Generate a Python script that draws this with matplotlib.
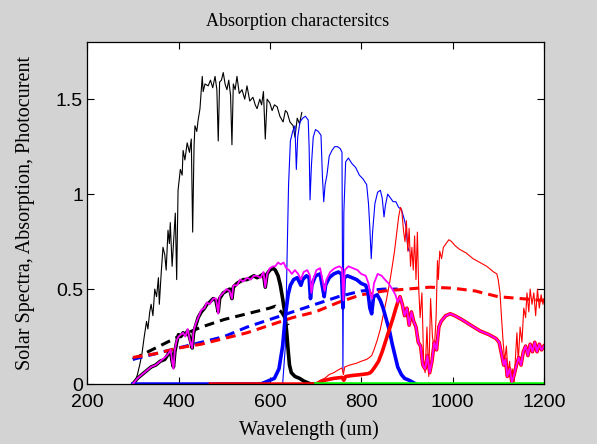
import numpy as np
import matplotlib
matplotlib.use('Agg')
from matplotlib import pyplot as plt

# solar spectrum, short wavelength part (black thin)
sol_blk_x = [300, 305, 310, 315, 320, 325, 330, 333, 337, 340, 344, 348, 352, 356, 358, 362, 366,
             370, 373, 377, 380, 382, 386, 389, 393, 396, 399, 404, 408, 410, 414, 419, 424, 428,
             431, 434, 436, 440, 443, 447, 452, 454, 458, 465, 470, 475, 480, 484, 487, 490, 494,
             498, 502, 506, 510, 514, 517, 520, 524, 528, 533, 539, 545, 550, 556, 563, 568, 572,
             578, 582, 586, 590, 594, 600, 605, 610, 616, 622, 629, 634, 638, 644, 651, 655, 660,
             665, 670]
sol_blk_y = [0.00, 0.01, 0.05, 0.10, 0.16, 0.25, 0.33, 0.29, 0.38, 0.42, 0.36, 0.50, 0.46, 0.56, 0.42,
             0.58, 0.72, 0.68, 0.60, 0.81, 0.74, 0.85, 0.62, 0.74, 0.90, 0.55, 1.02, 1.13, 1.10, 1.23,
             1.18, 1.27, 1.22, 1.29, 0.80, 1.25, 1.36, 1.33, 1.39, 1.45, 1.62, 1.54, 1.58, 1.57, 1.60,
             1.56, 1.62, 1.55, 1.28, 1.59, 1.60, 1.64, 1.58, 1.55, 1.60, 1.52, 1.26, 1.58, 1.55, 1.62,
             1.53, 1.55, 1.50, 1.57, 1.49, 1.51, 1.47, 1.45, 1.50, 1.47, 1.54, 1.29, 1.50, 1.48, 1.44,
             1.47, 1.46, 1.41, 1.38, 1.44, 1.43, 1.38, 1.36, 1.30, 1.40, 1.37, 1.43]

# solar spectrum, middle part (blue thin)
sol_blu_x = [628, 634, 638, 641, 645, 650, 655, 658, 661, 666, 672, 678, 684, 686, 688, 691, 695, 700,
             706, 712, 715, 718, 721, 725, 730, 736, 742, 748, 754, 758, 760, 762, 766, 772, 780, 788,
             796, 804, 812, 816, 819, 822, 825, 830, 836, 842, 846, 850, 853, 858, 864, 870, 876, 882,
             888, 894, 898, 902, 905]
sol_blu_y = [0.00, 0.20, 0.70, 1.05, 1.28, 1.33, 1.36, 1.13, 1.30, 1.38, 1.40, 1.41, 1.39, 1.25, 0.97,
             1.15, 1.30, 1.34, 1.33, 1.31, 1.10, 0.96, 1.05, 1.10, 1.20, 1.23, 1.25, 1.25, 1.24, 1.22,
             0.07, 0.90, 1.17, 1.19, 1.16, 1.14, 1.10, 1.08, 1.05, 0.95, 0.82, 0.66, 0.80, 0.95, 1.01,
             1.02, 0.98, 0.88, 0.94, 1.00, 0.98, 0.96, 0.96, 0.93, 0.92, 0.87, 0.83, 0.72, 0.70]

# solar spectrum, long wavelength part (red thin)
sol_red_x = [700, 710, 720, 730, 740, 750, 758, 761, 764, 775, 790, 800, 812, 818, 823, 828, 835, 842,
             848, 855, 862, 868, 873, 878, 882, 886, 889, 893, 896, 899, 902, 905, 908, 911, 914, 917,
             920, 923, 926, 929, 933, 937, 940, 944, 948, 952, 956, 960, 964, 967, 969, 972, 976, 980,
             986, 992, 998, 1005, 1015, 1030, 1045, 1060, 1075, 1090, 1097, 1100, 1104, 1107, 1110,
             1114, 1118, 1121, 1125, 1128, 1132, 1135, 1138, 1141, 1144, 1148, 1152, 1156, 1160, 1163,
             1167, 1170, 1174, 1178, 1182, 1186, 1190, 1194, 1198, 1200]
sol_red_y = [0.00, 0.02, 0.03, 0.05, 0.06, 0.075, 0.085, 0.05, 0.09, 0.10, 0.11, 0.12, 0.13, 0.14, 0.15,
             0.18, 0.23, 0.29, 0.36, 0.44, 0.53, 0.62, 0.70, 0.80, 0.88, 0.93, 0.91, 0.80, 0.75, 0.86,
             0.70, 0.82, 0.62, 0.72, 0.60, 0.78, 0.55, 0.80, 0.50, 0.35, 0.48, 0.10, 0.06, 0.30, 0.04,
             0.45, 0.25, 0.18, 0.35, 0.65, 0.55, 0.70, 0.66, 0.72, 0.74, 0.76, 0.75, 0.73, 0.71, 0.69,
             0.66, 0.64, 0.62, 0.59, 0.58, 0.55, 0.48, 0.36, 0.25, 0.12, 0.20, 0.06, 0.12, 0.02, 0.08,
             0.01, 0.15, 0.27, 0.12, 0.30, 0.22, 0.40, 0.35, 0.48, 0.38, 0.50, 0.42, 0.48, 0.36, 0.50,
             0.40, 0.47, 0.42, 0.45]

# absorption curves (dashed)
dash_blk_x = [300, 350, 400, 450, 500, 550, 600, 612, 625, 635, 640]
dash_blk_y = [0.13, 0.19, 0.25, 0.30, 0.34, 0.37, 0.40, 0.41, 0.38, 0.34, 0.31]
dash_blu_x = [300, 350, 400, 450, 500, 550, 600, 650, 700, 750, 800, 850, 880]
dash_blu_y = [0.13, 0.16, 0.19, 0.22, 0.25, 0.30, 0.34, 0.38, 0.42, 0.46, 0.49, 0.50, 0.50]
dash_red_x = [300, 350, 400, 450, 500, 550, 600, 650, 700, 750, 800, 850, 900, 950, 1000, 1050,
              1100, 1150, 1200]
dash_red_y = [0.14, 0.16, 0.19, 0.21, 0.24, 0.27, 0.31, 0.35, 0.38, 0.43, 0.47, 0.49, 0.50, 0.51,
              0.505, 0.49, 0.46, 0.45, 0.44]

# photocurrent of the top cell (black thick)
pc_blk_x = [300, 310, 320, 330, 340, 350, 360, 370, 378, 383, 386, 389, 392, 396, 400, 405, 410, 415,
            420, 425, 430, 433, 438, 443, 450, 457, 462, 468, 476, 482, 487, 490, 498, 505, 512, 517,
            520, 528, 535, 542, 550, 558, 565, 572, 580, 586, 590, 594, 600, 607, 612, 618, 623, 628,
            633, 637, 640, 643, 647, 655, 665, 675, 690, 700]
pc_blk_y = [0.00, 0.03, 0.05, 0.07, 0.09, 0.10, 0.12, 0.13, 0.16, 0.17, 0.12, 0.09, 0.17, 0.22, 0.26,
            0.25, 0.27, 0.26, 0.28, 0.24, 0.19, 0.27, 0.31, 0.35, 0.38, 0.40, 0.42, 0.43, 0.45, 0.44,
            0.38, 0.45, 0.48, 0.49, 0.50, 0.45, 0.51, 0.53, 0.54, 0.55, 0.55, 0.56, 0.57, 0.56, 0.57,
            0.58, 0.51, 0.58, 0.60, 0.61, 0.60, 0.57, 0.52, 0.45, 0.37, 0.27, 0.18, 0.10, 0.06, 0.04,
            0.03, 0.015, 0.0, 0.0]

# middle cell (blue thick)
pc_blu_x = [300, 470, 580, 610, 620, 628, 634, 640, 645, 652, 660, 668, 672, 680, 686, 689, 692, 700,
            710, 716, 719, 722, 730, 740, 750, 757, 760, 763, 770, 780, 790, 800, 810, 815, 819, 823,
            827, 835, 842, 848, 855, 862, 868, 874, 880, 888, 895, 905, 920]
pc_blu_y = [0.0, 0.0, 0.0, 0.03, 0.08, 0.20, 0.36, 0.47, 0.52, 0.55, 0.56, 0.52, 0.55, 0.57, 0.56,
            0.45, 0.52, 0.57, 0.58, 0.50, 0.46, 0.52, 0.56, 0.58, 0.59, 0.58, 0.40, 0.56, 0.57, 0.56,
            0.55, 0.53, 0.52, 0.48, 0.40, 0.37, 0.46, 0.47, 0.44, 0.40, 0.34, 0.28, 0.21, 0.15, 0.09,
            0.05, 0.03, 0.02, 0.0]

# bottom cell (red thick)
pc_red_x = [470, 700, 710, 720, 740, 758, 762, 766, 780, 800, 815, 820, 824, 830, 838, 846, 854, 862,
            870, 876, 880, 885, 890, 895, 900, 905, 910, 915, 920, 925, 930, 935, 940, 945, 950, 955,
            960, 965, 970, 975, 985, 995, 1005, 1020, 1040, 1060, 1080, 1095, 1102, 1108, 1112, 1116,
            1120, 1125, 1130, 1135, 1140, 1145, 1150, 1155, 1160, 1165, 1170, 1175, 1180, 1185, 1190,
            1195, 1200]
pc_red_y = [0.0, 0.0, 0.01, 0.02, 0.03, 0.035, 0.02, 0.04, 0.045, 0.05, 0.055, 0.06, 0.07, 0.09, 0.12,
            0.17, 0.23, 0.29, 0.35, 0.40, 0.43, 0.46, 0.42, 0.36, 0.40, 0.31, 0.38, 0.33, 0.30, 0.22,
            0.20, 0.10, 0.08, 0.15, 0.06, 0.12, 0.22, 0.18, 0.30, 0.33, 0.36, 0.37, 0.36, 0.34, 0.31,
            0.28, 0.26, 0.24, 0.22, 0.15, 0.10, 0.13, 0.04, 0.08, 0.01, 0.05, 0.10, 0.14, 0.10, 0.17,
            0.20, 0.15, 0.21, 0.17, 0.22, 0.17, 0.21, 0.18, 0.20]

# total (magenta), short part + middle part, long part follows the red cell
tot_x = [300, 310, 320, 330, 340, 350, 360, 370, 378, 383, 386, 389, 392, 396, 400, 405, 410, 415,
         420, 425, 430, 433, 438, 443, 450, 457, 462, 468, 476, 482, 487, 490, 498, 505, 512, 517,
         520, 528, 535, 542, 550, 558, 565, 572, 580, 586, 590, 594, 600, 607, 612, 618, 624, 630,
         636, 642, 648, 655, 662, 668, 674, 682, 688, 691, 695, 702, 710, 716, 720, 724, 732, 742,
         752, 758, 761, 764, 772, 782, 792, 800, 810, 816, 820, 824, 828, 836, 845, 852, 860, 868,
         875]
tot_y = [0.00, 0.03, 0.05, 0.07, 0.09, 0.10, 0.12, 0.14, 0.16, 0.18, 0.12, 0.08, 0.18, 0.23, 0.25,
         0.26, 0.27, 0.25, 0.29, 0.23, 0.19, 0.28, 0.32, 0.35, 0.39, 0.40, 0.43, 0.42, 0.45, 0.45,
         0.37, 0.46, 0.48, 0.50, 0.49, 0.45, 0.52, 0.52, 0.55, 0.54, 0.56, 0.55, 0.57, 0.57, 0.56,
         0.59, 0.51, 0.58, 0.61, 0.62, 0.62, 0.64, 0.63, 0.64, 0.61, 0.60, 0.58, 0.60, 0.58, 0.55,
         0.59, 0.60, 0.57, 0.48, 0.55, 0.60, 0.61, 0.54, 0.49, 0.55, 0.59, 0.61, 0.62, 0.61, 0.44,
         0.60, 0.62, 0.61, 0.60, 0.58, 0.57, 0.53, 0.47, 0.45, 0.53, 0.58, 0.57, 0.55, 0.53, 0.50,
         0.47]
tot_x = tot_x + pc_red_x[20:]
tot_y = tot_y + pc_red_y[20:]

zero_x = [700, 1200]
zero_y = [0, 0]

fig = plt.figure(figsize=(5.97, 4.44), dpi=100, facecolor='#d3d3d3')
ax = fig.add_axes([0.146, 0.135, 0.765, 0.770])
ax.set_facecolor('white')

ax.plot(sol_blk_x, sol_blk_y, color='black', lw=0.8)
ax.plot(sol_blu_x, sol_blu_y, color='blue', lw=0.8)
ax.plot(sol_red_x, sol_red_y, color='red', lw=0.8)
ax.plot(dash_blk_x, dash_blk_y, color='black', lw=2.2, dashes=(3.2, 2))
ax.plot(dash_blu_x, dash_blu_y, color='blue', lw=2.2, dashes=(3.2, 2))
ax.plot(dash_red_x, dash_red_y, color='red', lw=2.2, dashes=(3.2, 2))
ax.plot(pc_blk_x, pc_blk_y, color='black', lw=2.6)
ax.plot(pc_blu_x, pc_blu_y, color='blue', lw=2.6)
ax.plot(pc_red_x, pc_red_y, color='red', lw=2.6)
ax.plot(zero_x, zero_y, color='#00ff00', lw=2.6)
ax.plot(tot_x, tot_y, color='magenta', lw=1.3)

ax.set_xlim(200, 1200)
ax.set_ylim(0, 1.8)
ax.set_xticks([200, 400, 600, 800, 1000, 1200])
ax.set_yticks([0, 0.5, 1, 1.5])
ax.set_yticklabels(['0', '0.5', '1', '1.5'])
ax.tick_params(direction='in', top=True, right=True, length=5, width=0.8,
               labelsize=14, pad=3)
ax.tick_params(axis='x', pad=7)
for lab in ax.get_xticklabels() + ax.get_yticklabels():
    lab.set_family('Liberation Sans')
for s in ax.spines.values():
    s.set_linewidth(0.9)

ax.set_title('Absorption charactersitcs', family='Liberation Serif', fontsize=13, pad=12, x=0.46)
ax.set_xlabel('Wavelength (um)', family='Liberation Serif', fontsize=14.5, labelpad=7, x=0.485)
ax.set_ylabel('Solar Spectra, Absorption, Photocurent', family='Liberation Serif', fontsize=14.5,
              labelpad=15)

fig.savefig('out.png', dpi=100, facecolor=fig.get_facecolor())
